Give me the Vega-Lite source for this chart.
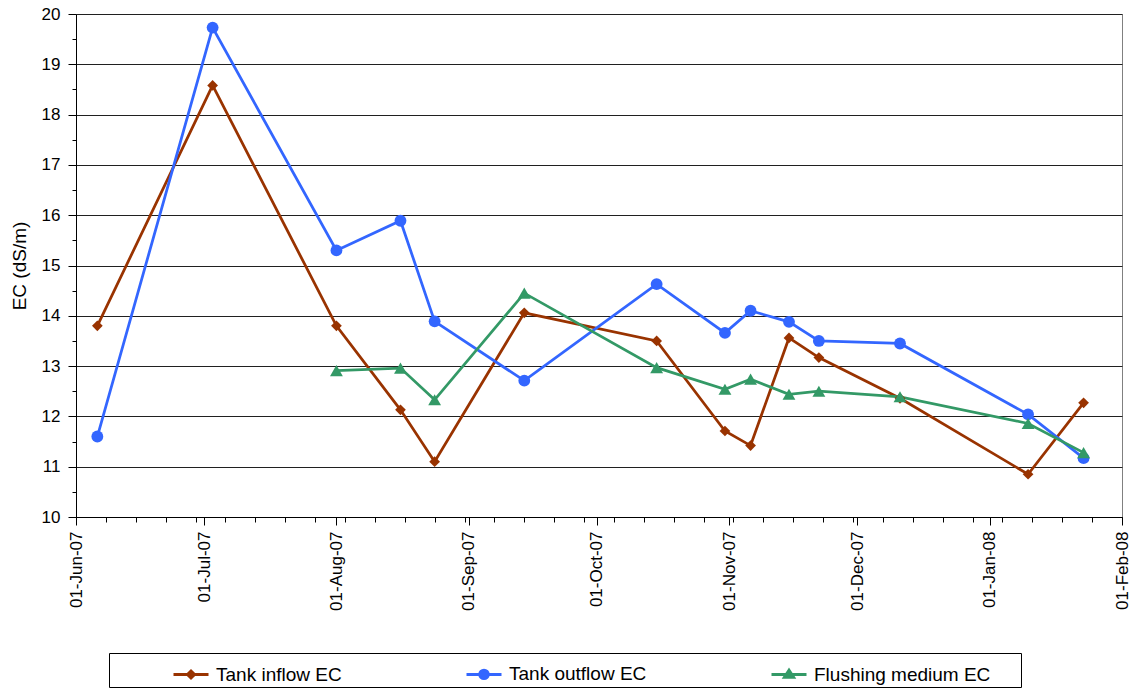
{
  "$schema": "https://vega.github.io/schema/vega-lite/v6.json",
  "width": 1046,
  "height": 503,
  "autosize": {"type": "none"},
  "padding": {"left": 76, "top": 14, "right": 14, "bottom": 172},
  "background": "white",
  "config": {
    "font": "Liberation Sans",
    "view": {"stroke": "#808080", "strokeWidth": 1},
    "axis": {
      "labelFont": "Liberation Sans",
      "titleFont": "Liberation Sans",
      "labelColor": "#000",
      "titleColor": "#000",
      "domainColor": "#000",
      "tickColor": "#000",
      "labelFontSize": 17
    }
  },
  "data": {
    "values": [
      {"date": "2007-06-06", "series": "Tank inflow EC", "ec": 13.8},
      {"date": "2007-07-03", "series": "Tank inflow EC", "ec": 18.58},
      {"date": "2007-08-01", "series": "Tank inflow EC", "ec": 13.8},
      {"date": "2007-08-16", "series": "Tank inflow EC", "ec": 12.13},
      {"date": "2007-08-24", "series": "Tank inflow EC", "ec": 11.1},
      {"date": "2007-09-14", "series": "Tank inflow EC", "ec": 14.06},
      {"date": "2007-10-15", "series": "Tank inflow EC", "ec": 13.5},
      {"date": "2007-10-31", "series": "Tank inflow EC", "ec": 11.71},
      {"date": "2007-11-06", "series": "Tank inflow EC", "ec": 11.42},
      {"date": "2007-11-15", "series": "Tank inflow EC", "ec": 13.56},
      {"date": "2007-11-22", "series": "Tank inflow EC", "ec": 13.17},
      {"date": "2007-12-11", "series": "Tank inflow EC", "ec": 12.36},
      {"date": "2008-01-10", "series": "Tank inflow EC", "ec": 10.85},
      {"date": "2008-01-23", "series": "Tank inflow EC", "ec": 12.27},
      {"date": "2007-06-06", "series": "Tank outflow EC", "ec": 11.6},
      {"date": "2007-07-03", "series": "Tank outflow EC", "ec": 19.73},
      {"date": "2007-08-01", "series": "Tank outflow EC", "ec": 15.3},
      {"date": "2007-08-16", "series": "Tank outflow EC", "ec": 15.89},
      {"date": "2007-08-24", "series": "Tank outflow EC", "ec": 13.89},
      {"date": "2007-09-14", "series": "Tank outflow EC", "ec": 12.71},
      {"date": "2007-10-15", "series": "Tank outflow EC", "ec": 14.63},
      {"date": "2007-10-31", "series": "Tank outflow EC", "ec": 13.66},
      {"date": "2007-11-06", "series": "Tank outflow EC", "ec": 14.1},
      {"date": "2007-11-15", "series": "Tank outflow EC", "ec": 13.88},
      {"date": "2007-11-22", "series": "Tank outflow EC", "ec": 13.5},
      {"date": "2007-12-11", "series": "Tank outflow EC", "ec": 13.45},
      {"date": "2008-01-10", "series": "Tank outflow EC", "ec": 12.04},
      {"date": "2008-01-23", "series": "Tank outflow EC", "ec": 11.17},
      {"date": "2007-08-01", "series": "Flushing medium EC", "ec": 12.91},
      {"date": "2007-08-16", "series": "Flushing medium EC", "ec": 12.96},
      {"date": "2007-08-24", "series": "Flushing medium EC", "ec": 12.33},
      {"date": "2007-09-14", "series": "Flushing medium EC", "ec": 14.45},
      {"date": "2007-10-15", "series": "Flushing medium EC", "ec": 12.97},
      {"date": "2007-10-31", "series": "Flushing medium EC", "ec": 12.54},
      {"date": "2007-11-06", "series": "Flushing medium EC", "ec": 12.74},
      {"date": "2007-11-15", "series": "Flushing medium EC", "ec": 12.44},
      {"date": "2007-11-22", "series": "Flushing medium EC", "ec": 12.5},
      {"date": "2007-12-11", "series": "Flushing medium EC", "ec": 12.39},
      {"date": "2008-01-10", "series": "Flushing medium EC", "ec": 11.86},
      {"date": "2008-01-23", "series": "Flushing medium EC", "ec": 11.28}
    ]
  },
  "layer": [
    {
      "mark": {"type": "line", "strokeWidth": 2.75},
      "encoding": {
        "x": {
          "field": "date",
          "type": "temporal",
          "scale": {
            "type": "utc",
            "domain": [
              {"year": 2007, "month": 6, "date": 1, "utc": true},
              {"year": 2008, "month": 2, "date": 1, "utc": true}
            ],
            "nice": false
          },
          "axis": {
            "values": [
              {"year": 2007, "month": 6, "date": 1, "utc": true},
              {"year": 2007, "month": 7, "date": 1, "utc": true},
              {"year": 2007, "month": 8, "date": 1, "utc": true},
              {"year": 2007, "month": 9, "date": 1, "utc": true},
              {"year": 2007, "month": 10, "date": 1, "utc": true},
              {"year": 2007, "month": 11, "date": 1, "utc": true},
              {"year": 2007, "month": 12, "date": 1, "utc": true},
              {"year": 2008, "month": 1, "date": 1, "utc": true},
              {"year": 2008, "month": 2, "date": 1, "utc": true}
            ],
            "format": "%d-%b-%y",
            "labelAngle": 270,
            "tickSize": 8,
            "labelPadding": 6,
            "grid": false,
            "title": null,
            "labelFontSize": 17,
            "labelOverlap": false
          }
        },
        "y": {
          "field": "ec",
          "type": "quantitative",
          "scale": {"domain": [10, 20], "nice": false, "zero": false},
          "axis": {
            "values": [10, 11, 12, 13, 14, 15, 16, 17, 18, 19, 20],
            "tickSize": 8,
            "labelPadding": 8,
            "grid": true,
            "gridColor": "#202020",
            "gridWidth": 1,
            "title": "EC (dS/m)",
            "titleFontSize": 19,
            "titleFontWeight": "normal",
            "titlePadding": 12,
            "labelFontSize": 17,
            "labelOverlap": false
          }
        },
        "color": {
          "field": "series",
          "type": "nominal",
          "scale": {
            "domain": ["Tank inflow EC", "Tank outflow EC", "Flushing medium EC"],
            "range": ["#993300", "#3366FF", "#339966"]
          },
          "legend": {
            "title": "\u2800\u2800\u2800\u2800\u2800\u2800\u2800\u2800",
            "titleOrient": "left",
            "titleFontSize": 10,
            "titleColor": "white",
            "titlePadding": 5,
            "orient": "none",
            "legendX": 33,
            "legendY": 639,
            "direction": "horizontal",
            "strokeColor": "#000",
            "fillColor": "white",
            "padding": 2,
            "columnPadding": 118,
            "labelFont": "Liberation Sans",
            "labelFontSize": 19,
            "labelColor": "#000",
            "labelLimit": 400,
            "labelOffset": 6,
            "symbolSize": 1225,
            "symbolStrokeWidth": 3,
            "labelExpr": "datum.label == 'Flushing medium EC' ? datum.label + '\u2800\u2800' : datum.label",
            "encode": {
              "symbols": {
                "update": {
                  "shape": {"signal": "datum.value === 'Tank inflow EC' ? 'M-1,0H1M-0.2,0L0,-0.2L0.2,0L0,0.2Z' : datum.value === 'Tank outflow EC' ? 'M-1,0H1M-0.24,0A0.24,0.24,0,1,0,0.24,0A0.24,0.24,0,1,0,-0.24,0Z' : 'M-1,0H1M0,-0.24L-0.26,0.16L0.26,0.16Z'"},
                  "fill": {"signal": "datum.value === 'Tank inflow EC' ? '#993300' : datum.value === 'Tank outflow EC' ? '#3366FF' : '#339966'"},
                  "stroke": {"signal": "datum.value === 'Tank inflow EC' ? '#993300' : datum.value === 'Tank outflow EC' ? '#3366FF' : '#339966'"},
                  "strokeWidth": {"value": 3},
                  "size": {"value": 1225},
                  "opacity": {"value": 1},
                  "fillOpacity": {"value": 1},
                  "strokeOpacity": {"value": 1}
                }
              }
            }
          }
        }
      }
    },
    {
      "transform": [{"filter": "datum.series === 'Tank inflow EC'"}],
      "mark": {"type": "point", "filled": true, "opacity": 1, "shape": "diamond", "size": 115, "color": "#993300"},
      "encoding": {
        "x": {
          "field": "date",
          "type": "temporal",
          "axis": {
            "orient": "bottom",
            "values": [
              {"year": 2007, "month": 6, "date": 1, "utc": true},
              {"year": 2007, "month": 6, "date": 8, "utc": true},
              {"year": 2007, "month": 6, "date": 15, "utc": true},
              {"year": 2007, "month": 6, "date": 22, "utc": true},
              {"year": 2007, "month": 6, "date": 29, "utc": true},
              {"year": 2007, "month": 7, "date": 6, "utc": true},
              {"year": 2007, "month": 7, "date": 13, "utc": true},
              {"year": 2007, "month": 7, "date": 20, "utc": true},
              {"year": 2007, "month": 7, "date": 27, "utc": true},
              {"year": 2007, "month": 8, "date": 3, "utc": true},
              {"year": 2007, "month": 8, "date": 10, "utc": true},
              {"year": 2007, "month": 8, "date": 17, "utc": true},
              {"year": 2007, "month": 8, "date": 24, "utc": true},
              {"year": 2007, "month": 8, "date": 31, "utc": true},
              {"year": 2007, "month": 9, "date": 7, "utc": true},
              {"year": 2007, "month": 9, "date": 14, "utc": true},
              {"year": 2007, "month": 9, "date": 21, "utc": true},
              {"year": 2007, "month": 9, "date": 28, "utc": true},
              {"year": 2007, "month": 10, "date": 5, "utc": true},
              {"year": 2007, "month": 10, "date": 12, "utc": true},
              {"year": 2007, "month": 10, "date": 19, "utc": true},
              {"year": 2007, "month": 10, "date": 26, "utc": true},
              {"year": 2007, "month": 11, "date": 2, "utc": true},
              {"year": 2007, "month": 11, "date": 9, "utc": true},
              {"year": 2007, "month": 11, "date": 16, "utc": true},
              {"year": 2007, "month": 11, "date": 23, "utc": true},
              {"year": 2007, "month": 11, "date": 30, "utc": true},
              {"year": 2007, "month": 12, "date": 7, "utc": true},
              {"year": 2007, "month": 12, "date": 14, "utc": true},
              {"year": 2007, "month": 12, "date": 21, "utc": true},
              {"year": 2007, "month": 12, "date": 28, "utc": true},
              {"year": 2008, "month": 1, "date": 4, "utc": true},
              {"year": 2008, "month": 1, "date": 11, "utc": true},
              {"year": 2008, "month": 1, "date": 18, "utc": true},
              {"year": 2008, "month": 1, "date": 25, "utc": true},
              {"year": 2008, "month": 2, "date": 1, "utc": true}
            ],
            "labels": false,
            "domain": false,
            "grid": false,
            "tickSize": 5,
            "title": null
          }
        },
        "y": {
          "field": "ec",
          "type": "quantitative",
          "axis": {
            "orient": "left",
            "values": [10.5, 11.5, 12.5, 13.5, 14.5, 15.5, 16.5, 17.5, 18.5, 19.5],
            "labels": false,
            "domain": false,
            "grid": false,
            "tickSize": 4,
            "title": null
          }
        }
      }
    },
    {
      "transform": [{"filter": "datum.series === 'Tank outflow EC'"}],
      "mark": {"type": "point", "filled": true, "opacity": 1, "shape": "circle", "size": 140, "color": "#3366FF"},
      "encoding": {
        "x": {"field": "date", "type": "temporal", "axis": null},
        "y": {"field": "ec", "type": "quantitative", "axis": null}
      }
    },
    {
      "transform": [{"filter": "datum.series === 'Flushing medium EC'"}],
      "mark": {"type": "point", "filled": true, "opacity": 1, "shape": "triangle-up", "size": 165, "color": "#339966"},
      "encoding": {
        "x": {"field": "date", "type": "temporal", "axis": null},
        "y": {"field": "ec", "type": "quantitative", "axis": null}
      }
    }
  ],
  "resolve": {"axis": {"x": "independent", "y": "independent"}}
}
